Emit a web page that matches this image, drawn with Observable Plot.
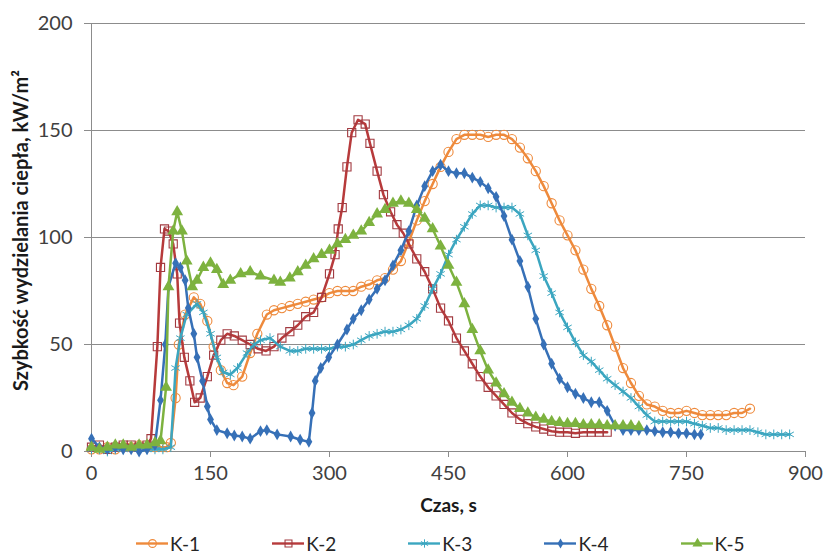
<!DOCTYPE html>
<html>
<head>
<meta charset="utf-8">
<script src="https://cdn.jsdelivr.net/npm/d3@7"></script>
<script src="https://cdn.jsdelivr.net/npm/@observablehq/plot@0.6"></script>
<style>
  body { margin: 0; background: #fff; font-family: Lato, "Liberation Sans", sans-serif; }
  #legend { display: flex; align-items: center; margin-left: 136px; gap: 72px; height: 30px; padding-top: 8px; font-size: 19px; color: #262626; }
  .item { display: flex; align-items: center; gap: 2px; }
</style>
</head>
<body>
<div id="chart"></div>
<div id="legend"></div>
<script>
// Series names and colours
const seriesNames = ["K-1", "K-2", "K-3", "K-4", "K-5"];
const seriesColors = ["#EE8A3C", "#B73A3B", "#3BA6C0", "#3670B7", "#7DB23F"];

// [time s, heat release rate kW/m²]
const k1 = [[0,1],[10,1],[20,2],[30,1],[40,2],[50,2],[60,3],[70,2],[80,2],[90,2],[95,2],[100,4],[106,25],[110,50],[118,64],[129,72],[137,69],[146,61],[154,49],[163,38],[171,32],[179,31],[190,35],[200,46],[209,55],[221,64],[230,66],[240,67],[250,68],[260,69],[270,70],[280,71],[290,72],[300,74],[310,75],[320,75],[330,75],[340,77],[350,78],[360,80],[370,81],[380,85],[390,89],[400,98],[410,108],[420,117],[430,125],[440,133],[450,140],[460,146],[470,148],[480,148],[490,148],[500,147],[510,148],[520,148],[530,146],[540,142],[550,137],[560,131],[570,124],[580,116],[590,108],[600,101],[610,94],[620,85],[630,76],[640,68],[650,59],[660,49],[670,39],[680,32],[690,26],[700,22],[710,21],[720,19],[730,18],[740,18],[750,19],[760,18],[770,17],[780,17],[790,17],[800,17],[810,18],[820,18],[830,20]];

const k2 = [[0,2],[10,3],[20,1],[30,2],[40,3],[50,3],[60,2],[70,3],[75,6],[83,49],[87,86],[92,104],[97,103],[103,97],[108,83],[111,60],[117,44],[124,33],[130,23],[137,25],[146,35],[154,45],[163,52],[171,55],[180,54],[190,52],[200,50],[210,48],[220,47],[230,49],[240,53],[250,56],[260,59],[270,63],[280,65],[290,72],[300,83],[307,92],[311,104],[316,114],[322,133],[328,149],[336,155],[345,153],[351,144],[360,131],[368,120],[377,112],[385,106],[393,102],[400,97],[410,90],[420,84],[430,76],[440,67],[450,61],[460,53],[470,47],[480,41],[490,35],[500,30],[510,26],[520,22],[530,18],[540,15],[550,13],[560,11.5],[570,10.5],[580,9.5],[590,9],[600,9],[610,8.5],[620,9],[630,9],[640,9],[650,9]];

const k3 = [[0,1],[10,1],[20,0],[30,1],[40,1],[50,2],[60,2],[70,1],[80,1],[90,1],[100,2],[106,39],[112,53],[120,64],[133,69],[141,65],[150,55],[158,44],[166,37],[175,36],[184,39],[196,46],[205,50],[213,52],[225,53],[238,49],[250,47],[260,47],[270,48],[280,48],[290,48],[300,48],[310,49],[320,49],[330,50],[340,52],[350,54],[360,55],[370,56],[380,56],[390,57],[400,59],[410,62],[420,68],[430,76],[440,83],[450,92],[460,99],[470,105],[480,111],[490,115],[500,115],[510,114],[520,114],[530,114],[540,111],[550,101],[560,94],[570,82],[580,74],[590,65],[600,58],[610,51],[620,45],[630,42],[640,38],[650,34],[660,31],[670,28],[680,25],[690,21],[700,17],[710,14],[720,14],[730,14],[740,14],[750,14],[760,13],[770,12],[780,11],[790,11],[800,10],[810,10],[820,10],[830,10],[840,9],[850,8],[860,8],[870,8],[880,8]];

const k4 = [[0,6],[10,2],[20,1],[30,2],[40,1],[50,1],[60,0],[70,1],[80,3],[87,24],[93,50],[97,77],[106,88],[112,86],[118,80],[122,67],[129,55],[133,44],[140,33],[146,21],[150,15],[158,10],[171,8.5],[180,7.5],[190,7],[200,6],[213,9.5],[221,10],[234,8],[251,7],[263,5.5],[274,4.5],[278,18],[282,33],[289,39],[299,44],[310,50],[322,57],[330,62],[340,66],[350,71],[360,76],[370,80],[380,87],[390,94],[400,103],[410,115],[420,124],[430,131],[440,134],[450,131],[460,130],[470,130],[480,128],[490,126],[500,123],[510,119],[520,110],[530,99],[540,89],[550,77],[560,62],[570,50],[580,41],[590,34],[600,30],[610,27],[620,25],[630,23],[640,23],[650,19],[660,12],[670,10],[680,10],[690,10],[700,10],[710,9.5],[720,9],[730,9],[740,8.5],[750,8.5],[760,8],[768,8]];

const k5 = [[0,2],[10,1],[20,2],[30,3],[40,3],[50,2],[60,3],[70,3],[80,4],[87,5],[94,30],[97,77],[103,103],[108,112],[114,103],[120,89],[127,77],[133,80],[141,86],[150,88],[158,85],[166,78],[175,80],[188,83],[200,84],[213,82],[230,80],[238,79],[250,81],[260,84],[270,87],[280,90],[290,92],[300,94],[310,97],[320,99],[330,101],[340,103],[350,107],[360,111],[370,113],[380,116],[390,117],[400,116],[410,113],[420,109],[430,104],[440,96],[450,87],[460,79],[470,69],[480,57],[490,47],[500,38],[510,32],[520,27],[530,23],[540,20],[550,18],[560,16],[570,15],[580,14],[590,13.5],[600,13],[610,13],[620,12.5],[630,12.5],[640,12.5],[650,12],[660,12],[670,12],[680,12],[690,11.5]];

const xTicks = [0, 150, 300, 450, 600, 750, 900];
const yTicks = [0, 50, 100, 150, 200];
const gridValues = [50, 100, 150, 200];
const xTitle = "Czas, s";
const yTitle = "Szybkość wydzielania ciepła, kW/m²";

const allSeries = [k1, k2, k3, k4, k5];
const rows = allSeries.flatMap((s, i) => s.map(([t, v]) => ({series: seriesNames[i], t, v})));

const markerOpts = {
  "K-1": {symbol: "circle", r: 4.6, fill: "none", stroke: seriesColors[0], strokeWidth: 1.1},
  "K-2": {symbol: "square", r: 4.6, fill: "none", stroke: "#A23A40", strokeWidth: 1.1},
  "K-3": {symbol: "asterisk", r: 4.6, fill: "none", stroke: seriesColors[2], strokeWidth: 1},
  "K-4": {symbol: "diamond", r: 3.6, fill: seriesColors[3], stroke: "none"},
  "K-5": {symbol: "triangle", r: 4.4, fill: seriesColors[4], stroke: "none"}
};

const marks = [
  Plot.ruleY(gridValues, {stroke: "#8c8c8c", strokeWidth: 1}),
  Plot.ruleY([0], {stroke: "#8c8c8c", strokeWidth: 1}),
  Plot.ruleX([0], {stroke: "#8c8c8c", strokeWidth: 1}),
  Plot.axisX({ticks: xTicks, tickSize: 6, tickPadding: 8, stroke: "#8c8c8c", fill: "#404040", fontSize: 20, label: null}),
  Plot.axisY({ticks: yTicks, tickSize: 7, tickPadding: 12, stroke: "#8c8c8c", fill: "#404040", fontSize: 20, label: null})
];
seriesNames.forEach((name, i) => {
  const data = rows.filter(d => d.series === name);
  marks.push(Plot.line(data, {x: "t", y: "v", stroke: seriesColors[i], strokeWidth: 2.5}));
  marks.push(Plot.dot(data, {x: "t", y: "v", ...markerOpts[name]}));
});
marks.push(Plot.text([xTitle], {frameAnchor: "bottom", dy: 60, fontWeight: "bold", fontSize: 19, fill: "#1a1a1a"}));
marks.push(Plot.text([yTitle], {frameAnchor: "left", dx: -70, dy: -7, rotate: -90, textAnchor: "middle", fontWeight: "bold", fontSize: 20, fill: "#1a1a1a"}));

const chart = Plot.plot({
  width: 823,
  height: 520,
  marginLeft: 91,
  marginRight: 18,
  marginTop: 23,
  marginBottom: 69,
  x: {domain: [0, 900]},
  y: {domain: [0, 200]},
  style: {fontFamily: "Lato, 'Liberation Sans', sans-serif", fontSize: "20px", background: "#fff", overflow: "visible"},
  marks
});
document.getElementById("chart").append(chart);

// Legend
const legend = document.getElementById("legend");
seriesNames.forEach((name, i) => {
  const item = document.createElement("div");
  item.className = "item";
  const mo = markerOpts[name];
  const sym = Plot.plot({
    width: 32, height: 14, margin: 0,
    x: {domain: [0, 1], axis: null}, y: {domain: [0, 1], axis: null},
    style: {overflow: "visible", background: "transparent"},
    marks: [
      Plot.ruleY([0.5], {stroke: seriesColors[i], strokeWidth: 2.4}),
      Plot.dot([[0.5, 0.5]], {x: d => d[0], y: d => d[1], ...mo, r: mo.r * 0.85})
    ]
  });
  item.append(sym);
  const label = document.createElement("span");
  label.textContent = name;
  item.append(label);
  legend.append(item);
});
</script>
</body>
</html>
